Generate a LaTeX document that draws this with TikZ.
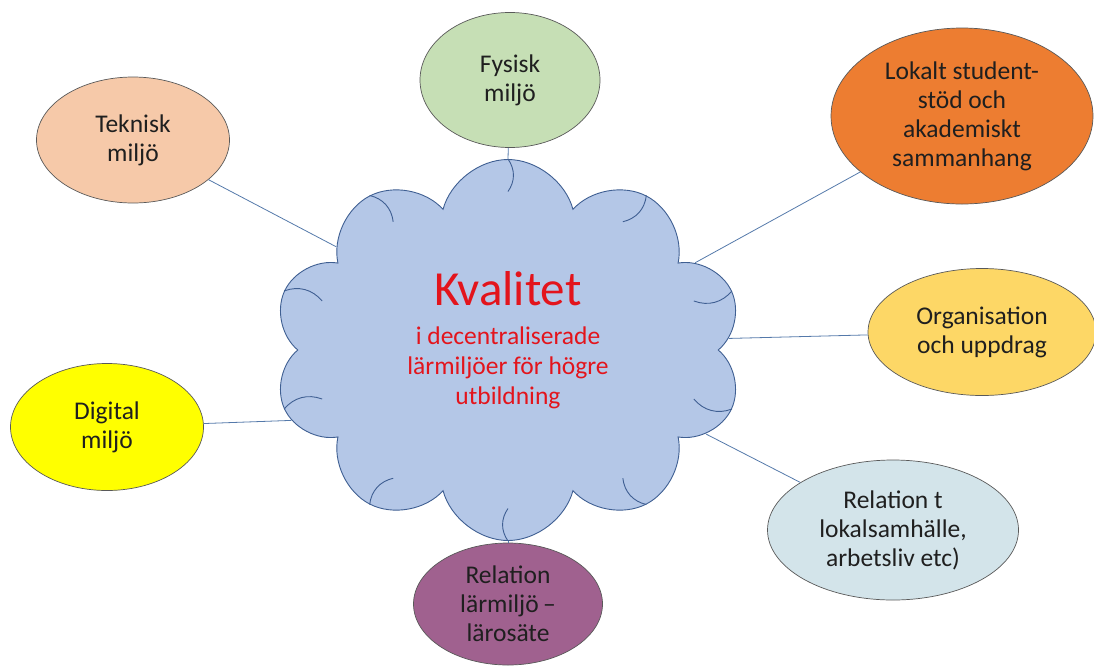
\documentclass[tikz,border=0pt]{standalone}
\usepackage{fontspec}
\setmainfont{Carlito}
\usetikzlibrary{shapes}
\usetikzlibrary{positioning}
\usetikzlibrary{calc}
\definecolor{cloudfill}{HTML}{B4C7E7}
\definecolor{cloudline}{HTML}{3F5F92}
\definecolor{linkblue}{HTML}{5479AA}
\definecolor{kvalred}{HTML}{E3141C}
\definecolor{fysiskgreen}{HTML}{C6DFB5}
\definecolor{teknikpeach}{HTML}{F6C9A9}
\definecolor{lokaltorange}{HTML}{ED7D31}
\definecolor{orggold}{HTML}{FDD766}
\definecolor{digitalyellow}{HTML}{FFFF00}
\definecolor{samhallblue}{HTML}{D3E4EA}
\definecolor{larosatepurple}{HTML}{A0618F}
\tikzset{
  topic/.style = {
    ellipse,
    draw=black!65,
    line width=0.7pt,
    inner sep=0pt,
    align=center,
    text=black!88,
    font=\fontsize{25.5}{29}\selectfont
  },
  link/.style = {
    draw=linkblue,
    line width=0.8pt
  },
  curl/.style = {
    draw=cloudline,
    line width=0.9pt
  },
}
\begin{document}
\begin{tikzpicture}[x=1pt,y=-1pt]
  \useasboundingbox (0,0) rectangle (1094,665);

  % centre
  \node [cloud, cloud puffs=10, cloud puff arc=150, cloud ignores aspect, minimum width=470pt, minimum height=381pt,
         draw=cloudline, fill=cloudfill, line width=0.9pt, align=center, text=kvalred,
         text depth=24pt, font=\fontsize{25.5}{30}\selectfont] (kvalitet) at (508,350)
    {{\fontsize{49}{49}\selectfont Kvalitet}\\[9pt] i decentraliserade\\ lärmiljöer för högre\\ utbildning};
  \foreach \i in {1,...,10}
    \draw [curl] (kvalitet.puff \i) to [bend left=35] ($ (kvalitet.puff \i)!0.17!(kvalitet.center) $);

  % topics
  \node [topic, fill=fysiskgreen, minimum width=180pt, minimum height=135pt] (fysisk) at (510,80) {Fysisk\\miljö};
  \node [topic, fill=teknikpeach, minimum width=193pt, minimum height=126pt] (teknisk) at (133,140) {Teknisk\\miljö};
  \node [topic, fill=lokaltorange, minimum width=262pt, minimum height=176pt] (lokalt) at (962,116) {Lokalt student-\\stöd och\\akademiskt\\sammanhang};
  \node [topic, fill=orggold, minimum width=228pt, minimum height=127pt] (organisation) at (982,332) {Organisation\\och uppdrag};
  \node [topic, fill=digitalyellow, minimum width=193pt, minimum height=127pt] (digital) at (107,427) {Digital\\miljö};
  \node [topic, fill=samhallblue, minimum width=251pt, minimum height=140pt] (samhalle) at (893,530) {Relation t\\lokalsamhälle,\\arbetsliv etc)};
  \node [topic, fill=larosatepurple, minimum width=189pt, minimum height=122pt] (larosate) at (508,604) {Relation\\lärmiljö\,--\\lärosäte};

  % links
  \draw [link] (fysisk) -- (kvalitet.90);
  \draw [link] (teknisk) -- (kvalitet.149);
  \draw [link] (lokalt) -- (kvalitet.25);
  \draw [link] (organisation) -- (kvalitet.3);
  \draw [link] (samhalle) -- (kvalitet.-23);
  \draw [link] (larosate) -- (kvalitet.-90);
  \draw [link] (digital) -- (kvalitet.198);
\end{tikzpicture}
\end{document}
